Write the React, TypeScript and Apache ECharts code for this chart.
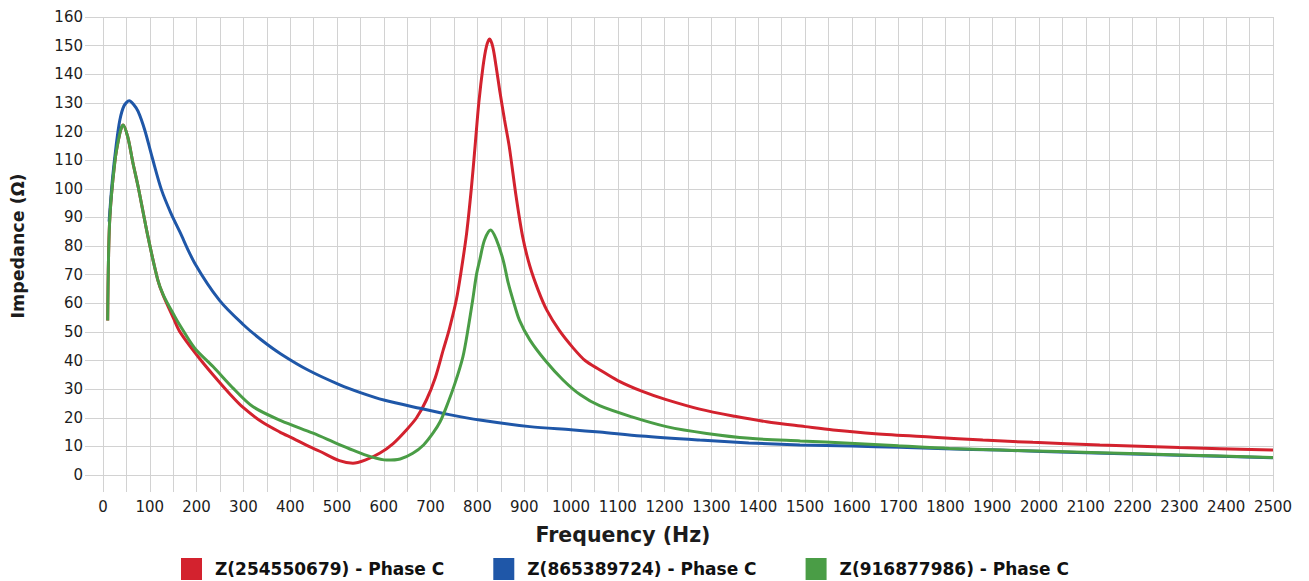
import React, { useEffect, useRef } from "react";
import * as echarts from "echarts";

const seriesNames = ["Z(254550679) - Phase C", "Z(865389724) - Phase C", "Z(916877986) - Phase C"];
const seriesColors = ["#d3222e", "#1f57a8", "#4a9d46"];

const redFreq = [10, 14, 25, 36, 43, 53, 64, 75, 96, 117, 128, 150, 164, 200, 235, 270, 300, 340, 378, 406, 440, 463, 505, 534, 560, 591, 620, 648, 670, 691, 710, 727, 740, 755, 766, 777, 787, 795, 803, 812, 819, 826, 833, 840, 848, 858, 868, 883, 897, 912, 930, 948, 975, 1004, 1030, 1061, 1100, 1154, 1200, 1275, 1350, 1418, 1500, 1560, 1650, 1774, 1880, 1987, 2130, 2300, 2500];
const redVal = [54, 88, 109, 119.4, 122.3, 118, 109, 100.8, 83.3, 68.2, 63, 55, 50.1, 42, 35, 28.5, 23.5, 18.5, 15, 12.8, 10, 8.3, 5, 4.1, 5.2, 7.6, 11, 15.7, 20, 26.2, 34, 43.7, 51, 61.2, 72, 84.5, 100, 114.8, 130, 142.7, 149.5, 152.3, 149.5, 142.7, 134, 124, 114.8, 97, 83, 73, 64.5, 57.7, 50.5, 44.5, 40, 36.8, 33, 29.1, 26.5, 23, 20.5, 18.6, 16.9, 15.7, 14.4, 13.2, 12.2, 11.4, 10.5, 9.6, 8.7];

const blueFreq = [13, 20, 28, 36, 45, 56, 65, 75, 89, 105, 125, 145, 164, 196, 249, 300, 340, 380, 440, 506, 550, 600, 677, 740, 805, 912, 1000, 1061, 1150, 1275, 1380, 1489, 1600, 1702, 1800, 1916, 2100, 2300, 2500];
const blueVal = [88.5, 103, 115, 124, 129, 130.7, 129.5, 127, 120.6, 111, 99.6, 91.5, 85, 74, 61, 52.5, 47, 42.3, 36.5, 31.5, 28.8, 26.2, 23.3, 21.1, 19.2, 16.9, 15.8, 15, 13.6, 12.2, 11.2, 10.5, 10.1, 9.7, 9.2, 8.7, 7.8, 6.9, 6.0];

const greenFreq = [10, 14, 25, 36, 43, 53, 64, 75, 96, 117, 130, 153, 164, 196, 235, 280, 320, 380, 449, 500, 534, 570, 606, 635, 662, 685, 705, 720, 734, 752, 769, 780, 790, 798, 805, 815, 828, 840, 855, 866, 876, 890, 912, 945, 983, 1020, 1061, 1130, 1204, 1290, 1382, 1490, 1596, 1700, 1809, 1950, 2130, 2300, 2500];
const greenVal = [54, 88, 109, 119.4, 122.3, 118, 109, 100.8, 83.3, 68.2, 62.5, 55.5, 52.4, 44.3, 37.9, 30, 23.9, 19, 14.6, 11, 8.7, 6.5, 5.2, 5.6, 7.6, 10.5, 14.6, 18.5, 23.9, 32, 41.3, 51, 61.2, 70, 75.1, 82, 85.6, 82.5, 75.1, 67, 61.2, 54, 47.2, 40, 33.2, 28, 24.2, 20.3, 16.9, 14.5, 12.8, 11.9, 11.1, 10.2, 9.3, 8.6, 7.8, 7, 6.1];

const xTitle = "Frequency (Hz)";
const yTitle = "Impedance (Ω)";

const pairs = (f: number[], v: number[]) => f.map((x, i) => [x, v[i]]);

export default function App() {
  const ref = useRef<HTMLDivElement>(null);
  useEffect(() => {
    if (!ref.current) return;
    const chart = echarts.init(ref.current, undefined, { renderer: "svg" });
    const gridColor = "#d2d2d2";
    const labelFont = { fontFamily: "DejaVu Sans", fontSize: 15, color: "#1c1c1c" };
    const datas = [pairs(redFreq, redVal), pairs(blueFreq, blueVal), pairs(greenFreq, greenVal)];
    chart.setOption({
      animation: false,
      backgroundColor: "#ffffff",
      grid: { left: 103, right: 36, top: 17, bottom: 106 },
      xAxis: {
        type: "value",
        min: 0,
        max: 2500,
        interval: 100,
        axisLine: { show: false },
        axisTick: { show: true, length: 17, lineStyle: { color: gridColor } },
        minorTick: { show: true, splitNumber: 2, length: 17, lineStyle: { color: gridColor } },
        splitLine: { show: true, lineStyle: { color: gridColor, width: 1 } },
        minorSplitLine: { show: true, lineStyle: { color: gridColor, width: 1 } },
        axisLabel: { ...labelFont, margin: 24, formatter: (v: number) => String(v) },
      },
      yAxis: {
        type: "value",
        min: 0,
        max: 160,
        interval: 10,
        name: yTitle,
        nameLocation: "middle",
        nameGap: 76,
        nameTextStyle: { fontFamily: "DejaVu Sans", fontWeight: "bold", fontSize: 17.5, color: "#1c1c1c" },
        axisLine: { show: false },
        axisTick: { show: true, length: 18, lineStyle: { color: gridColor } },
        splitLine: { show: true, lineStyle: { color: gridColor, width: 1 } },
        axisLabel: { ...labelFont, margin: 20 },
      },
      legend: {
        left: 176,
        top: 553,
        itemWidth: 21,
        itemHeight: 22,
        itemGap: 49,
        icon: "rect",
        textStyle: { fontFamily: "DejaVu Sans", fontWeight: "bold", fontSize: 17, color: "#111", padding: [0, 0, 0, 8] },
        data: seriesNames,
      },
      graphic: [
        {
          type: "text",
          x: 623,
          y: 535,
          style: {
            text: xTitle,
            fontFamily: "DejaVu Sans",
            fontWeight: "bold",
            fontSize: 20.5,
            fill: "#1c1c1c",
            textAlign: "center",
            textVerticalAlign: "middle",
          },
        },
      ],
      series: seriesNames.map((name, i) => ({
        name,
        type: "line",
        data: datas[i],
        showSymbol: false,
        symbol: "none",
        smooth: 0.3,
        lineStyle: { color: seriesColors[i], width: 3 },
        itemStyle: { color: seriesColors[i] },
      })),
    });
    return () => chart.dispose();
  }, []);
  return <div ref={ref} style={{ position: "fixed", left: 0, top: 0, width: 1309, height: 581 }} />;
}
